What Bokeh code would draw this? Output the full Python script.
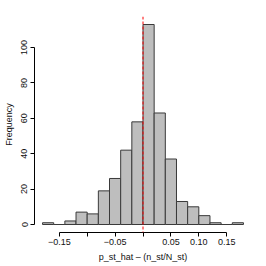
from bokeh.plotting import figure
from bokeh.models import FixedTicker, Span, Range1d
from bokeh.embed import file_html
from bokeh.resources import INLINE

# Histogram data (bin edges and counts)
bin_left = [-0.18, -0.16, -0.14, -0.12, -0.10, -0.08, -0.06, -0.04, -0.02,
            0.00, 0.02, 0.04, 0.06, 0.08, 0.10, 0.12, 0.14, 0.16]
bin_right = [-0.16, -0.14, -0.12, -0.10, -0.08, -0.06, -0.04, -0.02, 0.00,
             0.02, 0.04, 0.06, 0.08, 0.10, 0.12, 0.14, 0.16, 0.18]
counts = [1, 0, 2, 7, 6, 19, 26, 42, 58, 113, 63, 37, 13, 10, 5, 1, 0, 1]

x_ticks = [-0.15, -0.10, -0.05, 0.00, 0.05, 0.10, 0.15]
x_tick_labels = ["\u22120.15", "", "\u22120.05", "", "0.05", "0.10", "0.15"]
y_ticks = [0, 20, 40, 60, 80, 100]
ref_value = 0.0

FONT = "Liberation Sans"

p = figure(width=266, height=266, output_backend="svg", toolbar_location=None,
           x_range=Range1d(-0.1944, 0.1944), y_range=Range1d(-4.52, 117.52),
           min_border_top=16, min_border_right=15, min_border_left=33, min_border_bottom=34)

p.quad(left=bin_left, right=bin_right, bottom=0, top=counts,
       fill_color="#BEBEBE", line_color="#3a3a3a", line_width=1)

p.add_layout(Span(location=ref_value, dimension="height", line_color="#FF0000",
                  line_dash="3 2", line_width=1))

p.xgrid.visible = False
p.ygrid.visible = False
p.outline_line_color = None
p.background_fill_color = "white"
p.border_fill_color = "white"

xa = p.xaxis[0]
xa.ticker = FixedTicker(ticks=x_ticks)
xa.major_label_overrides = {t: l for t, l in zip(x_ticks, x_tick_labels)}
xa.bounds = (-0.15, 0.15)
xa.axis_label = "p_st_hat \u2013 (n_st/N_st)"
xa.major_label_standoff = 2
xa.axis_label_standoff = 4

ya = p.yaxis[0]
ya.ticker = FixedTicker(ticks=y_ticks)
ya.bounds = (0, 100)
ya.axis_label = "Frequency"
ya.major_label_orientation = "vertical"
ya.major_label_standoff = 3
ya.axis_label_standoff = 5

for ax in (xa, ya):
    ax.minor_tick_line_color = None
    ax.major_tick_in = 0
    ax.major_tick_out = 4
    ax.axis_line_color = "black"
    ax.major_tick_line_color = "black"
    ax.major_label_text_font = FONT
    ax.major_label_text_font_size = "9px"
    ax.major_label_text_color = "#111111"
    ax.axis_label_text_font = FONT
    ax.axis_label_text_font_size = "9px"
    ax.axis_label_text_font_style = "normal"
    ax.axis_label_text_color = "#111111"

open("out.html", "w").write(file_html(p, INLINE))
